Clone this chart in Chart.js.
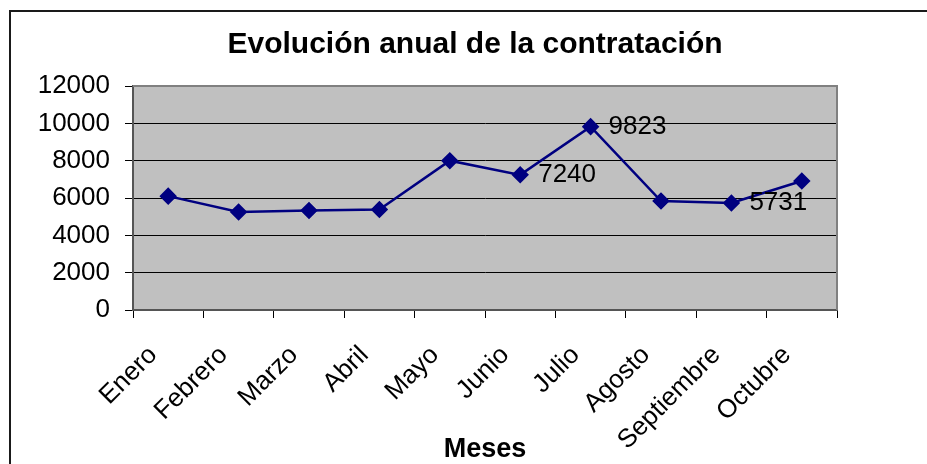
<!DOCTYPE html>
<html>
<head>
<meta charset="UTF-8">
<title>Evolución anual de la contratación</title>
<script src="https://cdn.jsdelivr.net/npm/chart.js@4.4.0/dist/chart.umd.min.js"></script>
<style>
	body { margin:0; background:#fff; }
	#frame { position:absolute; left:9px; top:10px; width:1000px; height:600px; border-left:2px solid #1a1a1a; border-top:2px solid #1a1a1a; }
	#wrap { position:absolute; left:0; top:0; width:927px; height:464px; }
</style>
<script>
	// datos
	let meses = ['Enero','Febrero','Marzo','Abril','Mayo','Junio','Julio','Agosto','Septiembre','Octubre'];
	let contratos = [6100, 5250, 5330, 5380, 8000, 7240, 9823, 5840, 5731, 6910];
	let conEtiqueta = ['Junio','Julio','Septiembre'];
	let yTicks = [0, 2000, 4000, 6000, 8000, 10000, 12000];

	let fuente = 'Liberation Sans, Arial, sans-serif';

	// fondo gris y borde del area de trazado
	let areaPlugin = {
		id : 'area',
		beforeDraw : function(chart){
			let a = chart.chartArea;
			let ctx = chart.ctx;
			ctx.save();
			ctx.fillStyle = '#c0c0c0';
			ctx.fillRect(a.left, a.top, a.right - a.left, a.bottom - a.top);
			ctx.restore();
		},
		afterDatasetsDraw : function(chart){
			let a = chart.chartArea;
			let ctx = chart.ctx;
			ctx.save();
			ctx.strokeStyle = '#808080';
			ctx.lineWidth = 2;
			ctx.beginPath();
			ctx.moveTo(a.left, a.top);
			ctx.lineTo(a.right, a.top);
			ctx.lineTo(a.right, a.bottom);
			ctx.stroke();
			// etiquetas de datos
			let meta = chart.getDatasetMeta(0);
			ctx.fillStyle = '#000';
			ctx.font = '26px ' + fuente;
			ctx.textBaseline = 'middle';
			ctx.textAlign = 'left';
			meses.forEach(function(m, i){
				if(conEtiqueta.indexOf(m) < 0) return;
				let p = meta.data[i];
				ctx.fillText(String(contratos[i]), p.x + 18, p.y);
			});
			ctx.restore();
		}
	};

	window.onload = function(){
		new Chart('myChart', {
			type : 'line',
			data : {
				labels : meses,
				datasets : [{
					data : contratos,
					borderColor : '#000080',
					backgroundColor : '#000080',
					borderWidth : 2.5,
					tension : 0,
					pointStyle : 'rectRot',
					pointRadius : 7,
					pointHoverRadius : 7
				}]
			},
			options : {
				responsive : false,
				animation : false,
				layout : { padding : { left : 23, right : 0, top : 0, bottom : 0 } },
				plugins : {
					legend : { display : false },
					tooltip : { enabled : false },
					title : {
						display : true,
						text : 'Evolución anual de la contratación',
						color : '#000',
						font : { family : fuente, size : 30, weight : 'bold' },
						padding : { top : 27, bottom : 23 }
					}
				},
				scales : {
					x : {
						offset : true,
						grid : { offset : true, drawOnChartArea : false, color : '#000', tickLength : 8 },
						border : { color : '#555', width : 2 },
						ticks : {
							color : '#000',
							font : { family : fuente, size : 26 },
							minRotation : 45, maxRotation : 45,
							labelOffset : -15,
							padding : 22
						},
						title : {
							display : true,
							text : 'Meses',
							color : '#000',
							font : { family : fuente, size : 27, weight : 'bold', lineHeight : 1.05 },
							padding : { top : 0, bottom : 0 }
						},
						afterFit : function(s){ s.height = 154; }
					},
					y : {
						min : 0, max : 12000,
						afterBuildTicks : function(s){ s.ticks = yTicks.map(function(v){ return {value : v}; }); },
						grid : { color : '#000', lineWidth : 1, tickLength : 8 },
						border : { color : '#555', width : 2 },
						ticks : {
							color : '#000',
							font : { family : fuente, size : 26 },
							padding : 15,
							callback : function(v){ return String(v); }
						},
						afterFit : function(s){ s.width = 110; }
					},
					// eje vacio a la derecha, solo para reservar el margen
					y2 : {
						position : 'right',
						display : true,
						grid : { display : false },
						border : { display : false },
						ticks : { display : false },
						afterFit : function(s){ s.width = 90; }
					}
				}
			},
			plugins : [areaPlugin]
		});
	};
</script>
</head>
<body>
	<div id="frame"></div>
	<div id="wrap">
		<canvas id="myChart" width="927" height="464"></canvas>
	</div>
</body>
</html>
